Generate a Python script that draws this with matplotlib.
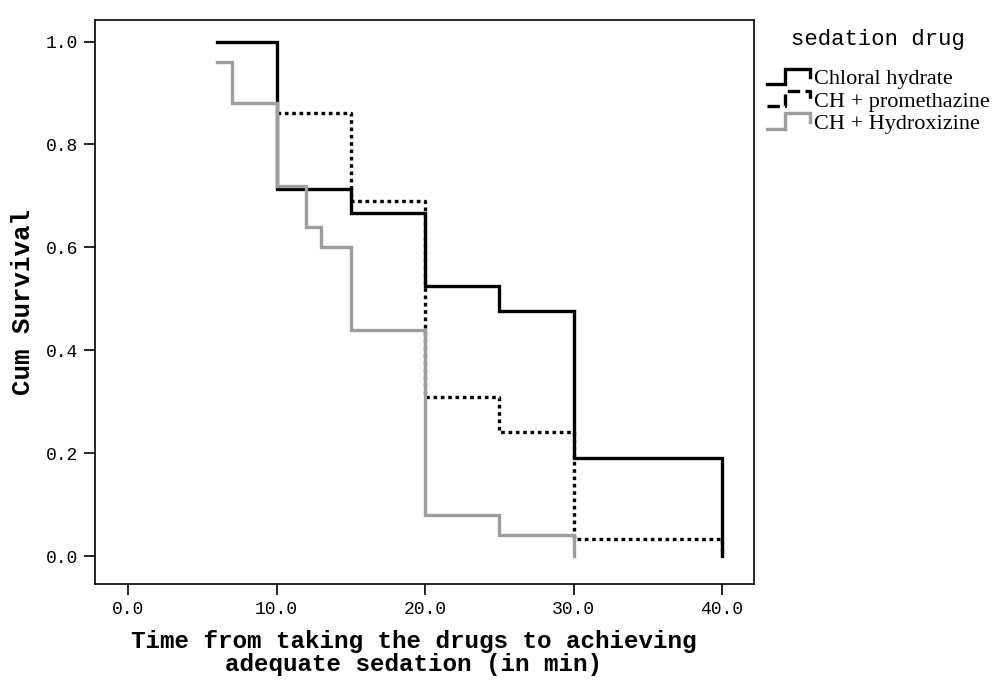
import numpy as np
import matplotlib.pyplot as plt
from matplotlib.lines import Line2D
from matplotlib.legend_handler import HandlerBase

# Kaplan-Meier steps (time in min, cum survival)
chloral_t = [6, 10, 15, 20, 25, 30, 40]
chloral_s = [1.0, 0.714, 0.667, 0.524, 0.476, 0.190, 0.0]

prometh_t = [10, 15, 20, 25, 30, 40]
prometh_s = [0.862, 0.690, 0.310, 0.241, 0.034, 0.0]

hydrox_t = [6, 7, 10, 12, 13, 15, 20, 25, 30]
hydrox_s = [0.96, 0.88, 0.72, 0.64, 0.60, 0.44, 0.08, 0.04, 0.0]

labels = ["Chloral hydrate", "CH + promethazine", "CH + Hydroxizine"]
x_ticks = [0, 10, 20, 30, 40]
y_ticks = [0.0, 0.2, 0.4, 0.6, 0.8, 1.0]

mono = "Liberation Mono"
serif = "Liberation Serif"
grey = "#9e9e9e"


# legend icon shaped like a small step
class StepHandler(HandlerBase):
    def create_artists(self, legend, orig_handle, xdescent, ydescent,
                       width, height, fontsize, trans):
        xs = np.array([0.0, 0.43, 0.43, 1.0, 1.0]) * width - xdescent
        ys = np.array([0.0, 0.0, 1.0, 1.0, 0.45]) * height - ydescent
        ln = Line2D(xs, ys, color=orig_handle.get_color(),
                    lw=orig_handle.get_linewidth(),
                    ls=orig_handle.get_linestyle(),
                    solid_joinstyle="miter", dash_capstyle="butt")
        ln.set_transform(trans)
        return [ln]


fig = plt.figure(figsize=(9.93, 6.80), dpi=100)
ax = fig.add_axes([0.0957, 0.1412, 0.6636, 0.8294])

l2, = ax.step(prometh_t, prometh_s, where="post", color="black", lw=2.4,
              ls=(0, (1.1, 1.1)), dash_capstyle="butt", zorder=2)
l1, = ax.step(chloral_t, chloral_s, where="post", color="black", lw=2.4,
              solid_joinstyle="miter", zorder=3)
l3, = ax.step(hydrox_t, hydrox_s, where="post", color=grey, lw=2.4,
              solid_joinstyle="miter", zorder=4)

ax.set_xlim(-2.22, 42.15)
ax.set_ylim(-0.0544, 1.042)
ax.set_xticks(x_ticks)
ax.set_xticklabels([f"{v:.1f}" for v in x_ticks])
ax.set_yticks(y_ticks)
ax.set_yticklabels([f"{v:.1f}" for v in y_ticks])

for s in ax.spines.values():
    s.set_linewidth(1.2)
ax.tick_params(direction="out", length=8, width=1.2, labelsize=13, pad=4)
for t in ax.get_xticklabels() + ax.get_yticklabels():
    t.set_family(mono)

ax.set_xlabel("Time from taking the drugs to achieving\nadequate sedation (in min)",
              family=mono, fontsize=17.5, fontweight="bold", linespacing=1.0)
ax.xaxis.set_label_coords(0.483, -0.082, transform=ax.transAxes)
ax.xaxis.label.set_va("top")
ax.set_ylabel("Cum Survival", family=mono, fontsize=18.5, fontweight="bold",
              labelpad=8)

leg = fig.legend([l1, l2, l3], labels, loc="upper left",
                 bbox_to_anchor=(0.772, 0.958), frameon=False,
                 prop={"family": serif, "size": 16},
                 handler_map={Line2D: StepHandler()},
                 handlelength=1.94, handleheight=0.68, handletextpad=0.18,
                 labelspacing=0.08, borderpad=0, borderaxespad=0)
leg.set_title("sedation drug", prop={"family": mono, "size": 16})
leg._legend_box.sep = 14

fig.savefig("out.png", dpi=100)
